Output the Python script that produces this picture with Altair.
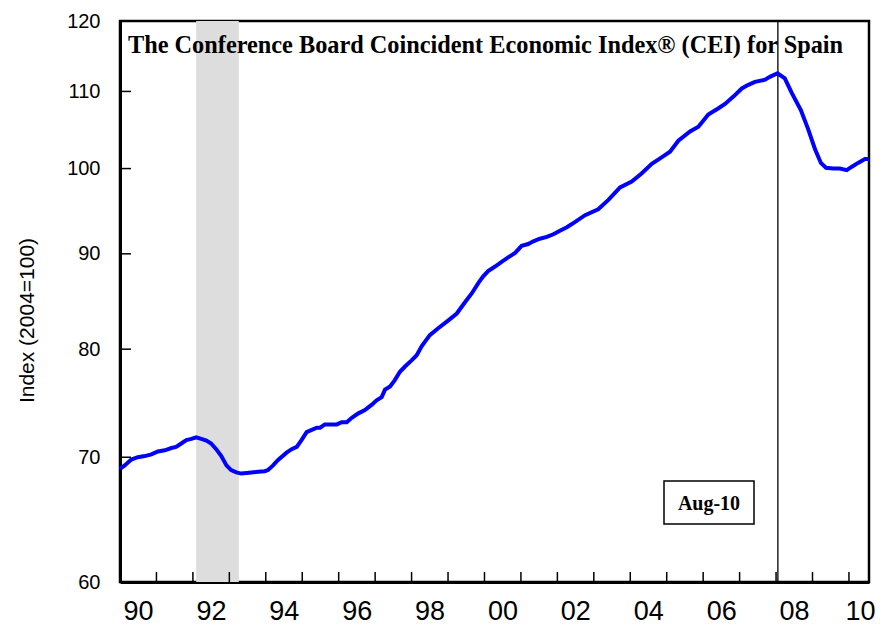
import altair as alt
import pandas as pd

# ---- data ----
years = [1990.00, 1990.13, 1990.31, 1990.49, 1990.68, 1990.86, 1991.04, 1991.23, 1991.41, 1991.54,
         1991.68, 1991.82, 1991.96, 1992.09, 1992.23, 1992.37, 1992.50, 1992.64, 1992.78, 1992.92,
         1993.05, 1993.19, 1993.33, 1993.47, 1993.60, 1993.79, 1993.97, 1994.06, 1994.20, 1994.33,
         1994.57, 1994.71, 1994.85, 1994.98, 1995.12, 1995.26, 1995.40, 1995.49, 1995.62, 1995.81,
         1995.95, 1996.08, 1996.22, 1996.36, 1996.54, 1996.72, 1996.91, 1997.04, 1997.18, 1997.27,
         1997.41, 1997.54, 1997.68, 1997.82, 1998.00, 1998.14, 1998.28, 1998.50, 1998.73, 1999.01,
         1999.24, 1999.47, 1999.65, 1999.83, 1999.96, 2000.10, 2000.29, 2000.47, 2000.65, 2000.84,
         2001.02, 2001.20, 2001.34, 2001.52, 2001.71, 2001.89, 2002.07, 2002.26, 2002.48, 2002.76,
         2003.12, 2003.40, 2003.72, 2004.04, 2004.31, 2004.59, 2004.86, 2005.09, 2005.32, 2005.64,
         2005.87, 2006.14, 2006.41, 2006.60, 2006.83, 2007.06, 2007.24, 2007.42, 2007.70, 2007.83,
         2008.04, 2008.24, 2008.43, 2008.68, 2008.88, 2009.07, 2009.23, 2009.37, 2009.57, 2009.75,
         2009.94, 2010.07, 2010.25, 2010.44, 2010.55]
values = [69.0, 69.3, 69.8, 70.0, 70.1, 70.25, 70.5, 70.6, 70.8, 70.9,
          71.2, 71.5, 71.6, 71.75, 71.6, 71.45, 71.2, 70.7, 70.1, 69.3,
          68.9, 68.7, 68.6, 68.65, 68.7, 68.75, 68.8, 68.9, 69.3, 69.75,
          70.4, 70.7, 70.9, 71.5, 72.2, 72.4, 72.6, 72.6, 72.9, 72.9,
          72.9, 73.1, 73.1, 73.5, 73.9, 74.2, 74.7, 75.1, 75.4, 76.1,
          76.4, 77.0, 77.8, 78.3, 78.9, 79.4, 80.3, 81.4, 82.1, 82.9,
          83.6, 84.8, 85.7, 86.8, 87.5, 88.1, 88.6, 89.1, 89.6, 90.1,
          90.9, 91.1, 91.4, 91.7, 91.9, 92.2, 92.6, 93.0, 93.6, 94.4,
          95.1, 96.2, 97.7, 98.4, 99.4, 100.6, 101.4, 102.1, 103.5, 104.7,
          105.3, 106.9, 107.7, 108.3, 109.3, 110.4, 110.9, 111.3, 111.6, 112.0,
          112.5, 111.8, 109.8, 107.5, 105.0, 102.4, 100.7, 100.1, 100.0, 100.0,
          99.8, 100.2, 100.7, 101.2, 101.2]

tick_years = list(range(1991, 2011))
label_years = list(range(1990, 2011, 2))
y_ticks = [60, 70, 80, 90, 100, 110, 120]
recession_start = [1992.09]
recession_end = [1993.26]
peak_marker = [2008.05]
title_text = "The Conference Board Coincident Economic Index\u00ae (CEI) for Spain"
box_text = "Aug-10"
y_title = "Index (2004=100)"

W, H = 749, 561

xscale = alt.Scale(domain=[1990, 2010.55], nice=False, zero=False)
yscale = alt.Scale(type="log", domain=[60, 120], nice=False)

line_df = pd.DataFrame({"year": years, "value": values})
rec_df = pd.DataFrame({"start": recession_start, "end": recession_end})
xt_df = pd.DataFrame({"year": tick_years})
yt_df = pd.DataFrame({"value": y_ticks[1:-1]})
peak_df = pd.DataFrame({"year": peak_marker})
title_df = pd.DataFrame({"t": [title_text]})
box_df = pd.DataFrame({"t": [box_text]})

x_axis = alt.Axis(
    values=label_years,
    labelExpr="substring(toString(datum.value), 2, 4)",
    labelOffset={"condition": {"test": "datum.value == 2010", "value": 11}, "value": 18},
    labelFont="Liberation Sans", labelFontSize=27, labelColor="black",
    labelBaseline="alphabetic", labelPadding=37,
    labelFlush=False, labelOverlap=False, labelBound=False,
    ticks=False, grid=False, domainColor="black", domainWidth=3, title=None,
)
y_axis = alt.Axis(
    values=y_ticks, format="d",
    labelFont="Liberation Sans", labelFontSize=20, labelColor="black",
    labelPadding=20, labelOverlap=False, labelFlush=False, labelBound=False,
    ticks=False, grid=False, domainColor="black", domainWidth=3,
    title=y_title, titleFont="Liberation Sans", titleFontSize=21,
    titleFontWeight="normal", titleColor="black", titleX=-83, titleY=299,
)

recession = alt.Chart(rec_df).mark_rect(color="#DDDDDD").encode(
    x=alt.X("start:Q", scale=xscale, axis=x_axis),
    x2="end:Q",
    y=alt.value(0),
    y2=alt.value(H),
)

line = alt.Chart(line_df).mark_line(color="#0000FF", strokeWidth=4).encode(
    x=alt.X("year:Q", scale=xscale, axis=x_axis),
    y=alt.Y("value:Q", scale=yscale, axis=y_axis),
)

xticks = alt.Chart(xt_df).mark_rule(color="black", strokeWidth=1.5).encode(
    x=alt.X("year:Q", scale=xscale, axis=x_axis),
    y=alt.value(H),
    y2=alt.value(H - 10),
)
yticks = alt.Chart(yt_df).mark_rule(color="black", strokeWidth=1.5).encode(
    y=alt.Y("value:Q", scale=yscale, axis=y_axis),
    x=alt.value(0),
    x2=alt.value(11),
)
peak = alt.Chart(peak_df).mark_rule(color="black", strokeWidth=1.3).encode(
    x=alt.X("year:Q", scale=xscale, axis=x_axis),
    y=alt.value(0),
    y2=alt.value(H),
)
title = alt.Chart(title_df).mark_text(
    align="left", baseline="alphabetic", font="Liberation Serif",
    fontWeight="bold", fontSize=24.3, color="black",
).encode(x=alt.value(8), y=alt.value(32), text="t:N")

box = alt.Chart(box_df).mark_rect(fill="white", stroke="black", strokeWidth=1.5).encode(
    x=alt.value(544), x2=alt.value(634), y=alt.value(460), y2=alt.value(503)
)
box_label = alt.Chart(box_df).mark_text(
    align="center", baseline="alphabetic", font="Liberation Serif",
    fontWeight="bold", fontSize=20, color="black",
).encode(x=alt.value(589), y=alt.value(489), text="t:N")

chart = alt.layer(
    recession, peak, line, xticks, yticks, title, box, box_label
).properties(
    width=W, height=H,
    autosize=alt.AutoSizeParams(type="none"),
    padding={"left": 112, "top": 13, "right": 9, "bottom": 43},
    background="white",
).configure_view(
    stroke="black", strokeWidth=2.5
)

chart.save("out.html", embed_options={"renderer": "svg", "actions": False})
